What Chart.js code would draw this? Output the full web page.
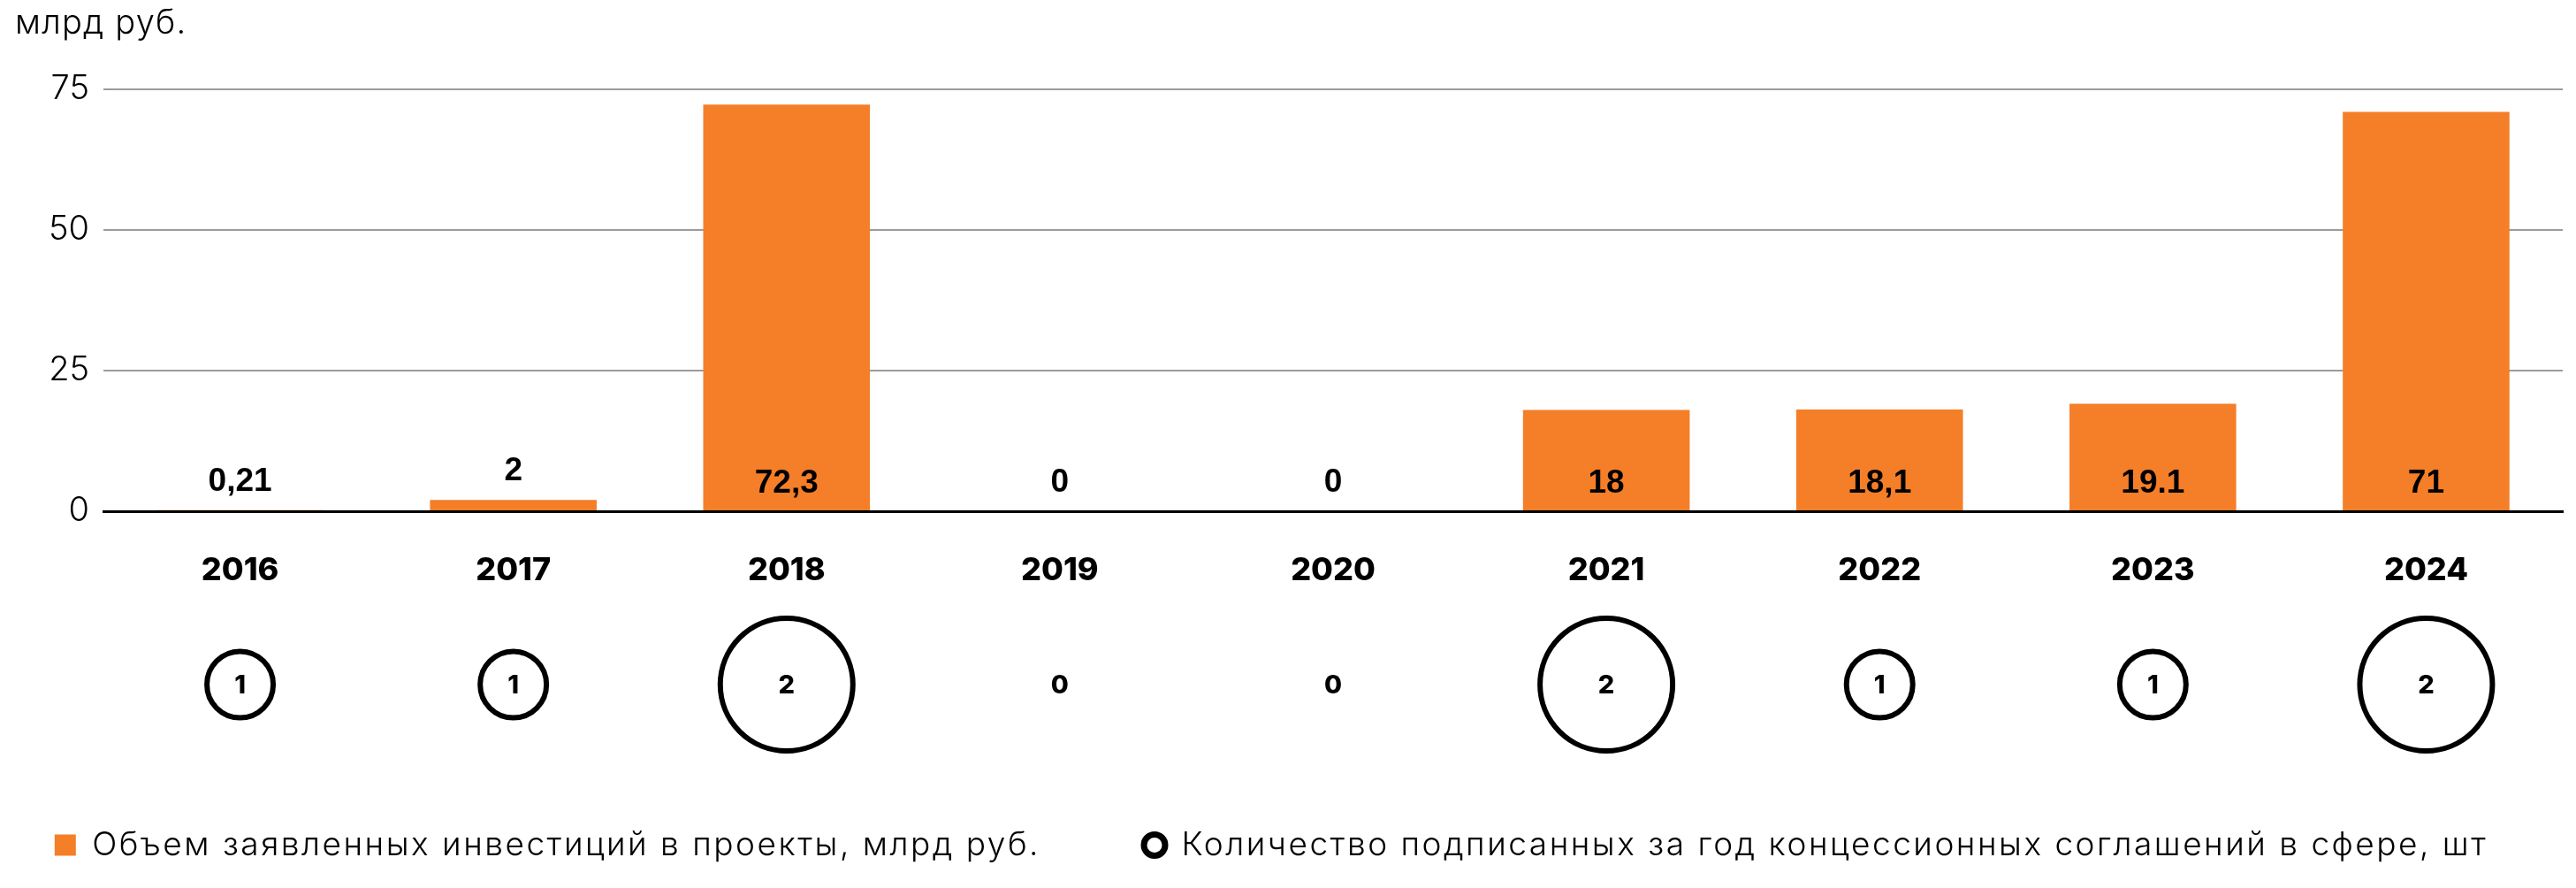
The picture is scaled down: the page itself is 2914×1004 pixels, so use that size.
<!DOCTYPE html>
<html><head><meta charset="utf-8">
<script src="https://cdn.jsdelivr.net/npm/chart.js@4.4.1/dist/chart.umd.min.js"></script>
<style>html,body{margin:0;padding:0;background:#fff;}#wrap{width:2914px;height:1004px;position:relative;}</style>
</head><body><div id="wrap"><canvas id="c"></canvas></div>
<script>
const years = ['2016','2017','2018','2019','2020','2021','2022','2023','2024'];
const investments = [0.21, 2, 72.3, 0, 0, 18, 18.1, 19.1, 71];
const investmentLabels = ['0,21','2','72,3','0','0','18','18,1','19.1','71'];
const agreements = [1, 1, 2, 0, 0, 2, 1, 1, 2];
const yTicks = [0, 25, 50, 75];
const seriesNames = ['Объем заявленных инвестиций в проекты, млрд руб.', 'Количество подписанных за год концессионных соглашений в сфере, шт'];
const unitLabel = 'млрд руб.';

const ORANGE = '#F57E28';
const ROW_Y = 774;

// letter spacing for legend and title text (drawn by the library's own boxes)
function patchSpacing(plugin, sp, dx, extra) {
  const proto = plugin && plugin._element && plugin._element.prototype;
  if (!proto) return;
  ['fit', 'draw'].forEach((m) => {
    const orig = proto[m];
    if (typeof orig !== 'function') return;
    proto[m] = function (...a) {
      const c = this.ctx;
      const prev = c.letterSpacing;
      c.save();
      c.letterSpacing = sp;
      let r;
      if (m === 'fit') {
        const mw = this.maxWidth;
        this.maxWidth = mw + extra;
        r = orig.apply(this, a);
        this.maxWidth = mw;
      } else {
        c.translate(dx - extra / 2, 0);
        this.right += extra;
        r = orig.apply(this, a);
        this.right -= extra;
      }
      c.restore();
      c.letterSpacing = prev;
      return r;
    };
  });
}
patchSpacing(Chart.Legend, '2.5px', -20, 600);
patchSpacing(Chart.Title, '1.2px', 0, 0);

const overlay = {
  id: 'overlay',
  afterDatasetsDraw(chart) {
    const {ctx, scales: {x, y}} = chart;
    const meta = chart.getDatasetMeta(0);
    const base = y.getPixelForValue(0);
    ctx.save();
    ctx.fillStyle = '#000';
    ctx.textAlign = 'center';
    ctx.textBaseline = 'middle';
    ctx.font = 'bold 37px "Liberation Sans"';
    meta.data.forEach((bar, i) => {
      const inside = investments[i] > 10;
      const ly = inside ? base - 31 : bar.y - 32;
      ctx.fillText(investmentLabels[i], bar.x, ly);
    });
    agreements.forEach((n, i) => {
      const cx = x.getPixelForValue(i);
      if (n > 0) {
        ctx.beginPath();
        ctx.arc(cx, ROW_Y, n * 37.5, 0, Math.PI * 2);
        ctx.lineWidth = 6;
        ctx.strokeStyle = '#000';
        ctx.stroke();
      }
      ctx.font = '800 29px Inter';
      ctx.fillText(String(n), cx, ROW_Y + 1);
    });
    ctx.restore();
  }
};

Chart.defaults.font.family = 'Inter';
Chart.defaults.color = '#000';

const chart = new Chart(document.getElementById('c'), {
  type: 'bar',
  data: {
    labels: years,
    datasets: [{
      label: seriesNames[0],
      data: investments,
      backgroundColor: ORANGE,
      borderWidth: 0,
      categoryPercentage: 1,
      barPercentage: 0.61
    }]
  },
  options: {
    responsive: true,
    maintainAspectRatio: false,
    devicePixelRatio: 1,
    animation: false,
    layout: {padding: {left: 17, right: 15, top: 4, bottom: 20}},
    plugins: {
      tooltip: {enabled: false},
      title: {
        display: true,
        text: unitLabel,
        align: 'start',
        color: '#000',
        font: {size: 38, weight: 300, family: 'Inter'},
        padding: {top: 0, bottom: 51.4}
      },
      legend: {
        display: true,
        position: 'bottom',
        align: 'center',
        labels: {
          boxWidth: 24,
          boxHeight: 24,
          useBorderRadius: true,
          padding: 117,
          color: '#000',
          font: {size: 37, weight: 300, family: 'Inter'},
          generateLabels: () => [
            {text: seriesNames[0], fillStyle: ORANGE, strokeStyle: ORANGE, lineWidth: 0, borderRadius: 0, datasetIndex: 0, hidden: false},
            {text: seriesNames[1], fillStyle: '#fff', strokeStyle: '#000', lineWidth: 7, borderRadius: 12, datasetIndex: 1, hidden: false}
          ]
        }
      }
    },
    scales: {
      x: {
        z: 1,
        grid: {display: false, drawTicks: false},
        border: {display: true, color: '#000', width: 3},
        ticks: {font: {size: 36, weight: 800, family: 'Inter'}, color: '#000', padding: 46, maxRotation: 0},
        afterFit: (s) => { s.height = 242; }
      },
      y: {
        min: 0, max: 75,
        afterBuildTicks: (s) => { s.ticks = yTicks.map(v => ({value: v})); },
        grid: {drawTicks: false, color: '#9b9b9b', lineWidth: 2},
        border: {display: false},
        ticks: {font: {size: 38, weight: 300, family: 'Inter'}, color: '#000', padding: 16},
        afterFit: (s) => { s.width = 100; }
      }
    }
  },
  plugins: [overlay]
});
</script>
</body></html>
